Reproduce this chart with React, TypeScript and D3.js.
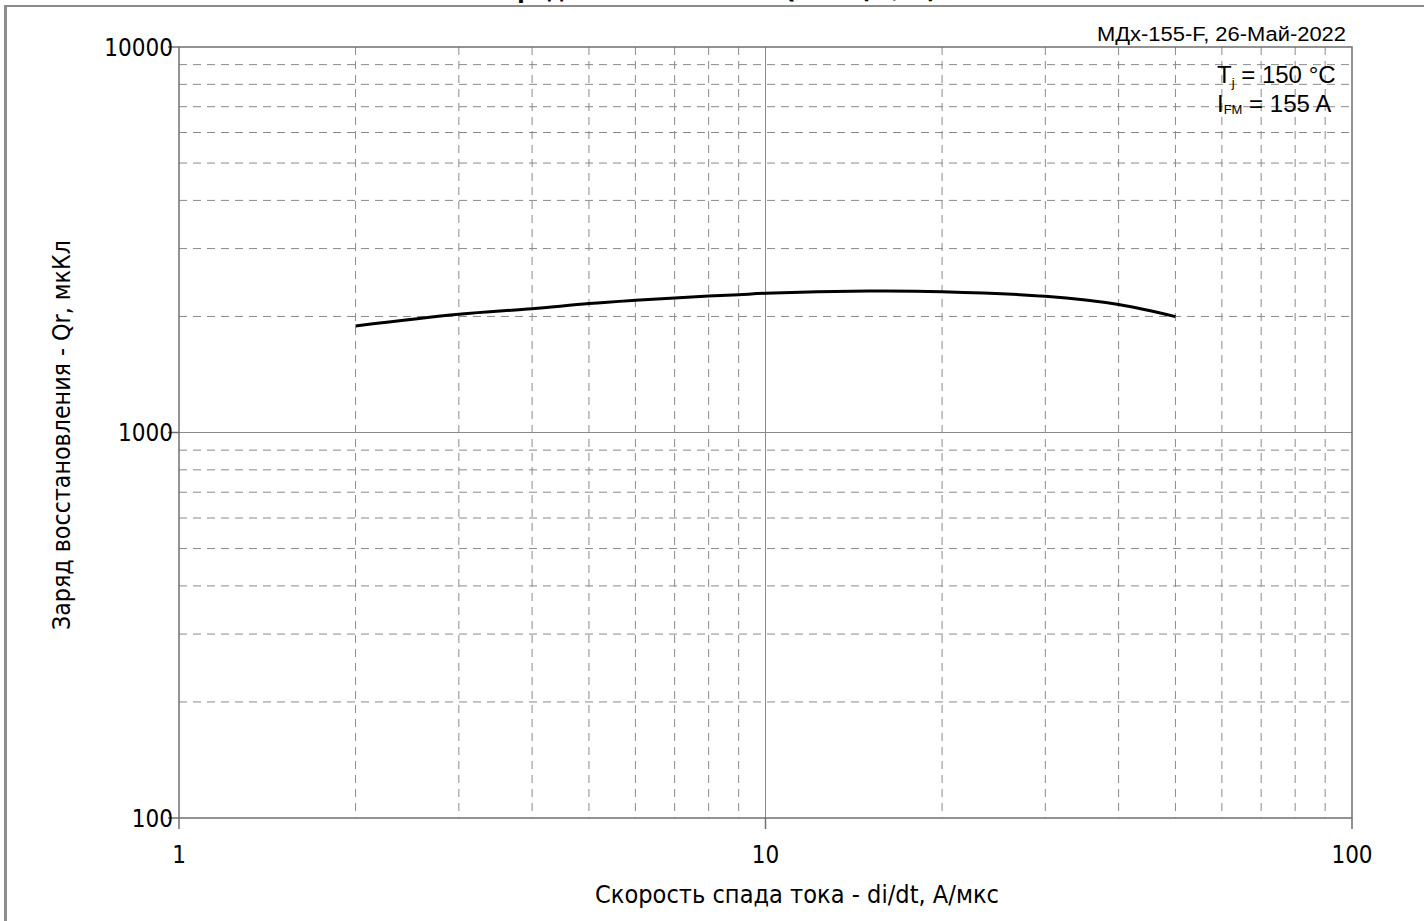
import React from "react";
import * as d3 from "d3";

const W = 1424;
const H = 921;

const diDt = [2, 3, 4, 5, 6, 7, 8, 9, 10, 15, 20, 30, 40, 50];
const qr = [1890, 2026, 2095, 2160, 2202, 2233, 2260, 2278, 2297, 2328, 2319, 2255, 2147, 1998];

const xMajor = [1, 10, 100];
const xMinor = [2, 3, 4, 5, 6, 7, 8, 9, 20, 30, 40, 50, 60, 70, 80, 90];
const yMajor = [100, 1000, 10000];
const yMinor = [200, 300, 400, 500, 600, 700, 800, 900, 2000, 3000, 4000, 5000, 6000, 7000, 8000, 9000];

const titleText = "Заряд восстановления Qrr = f(di/dt)";
const xTitle = "Скорость спада тока - di/dt, А/мкс";
const yTitle = "Заряд восстановления - Qr, мкКл";
const stamp = "МДх-155-F, 26-Май-2022";

const TICK_FONT = "'DejaVu Sans Condensed', 'DejaVu Sans', sans-serif";
const ARIAL = "'Liberation Sans', Arial, sans-serif";

export default function App() {
  const x = d3.scaleLog().domain([1, 100]).range([179, 1352]);
  const y = d3.scaleLog().domain([100, 10000]).range([818, 47]);
  const [x0, x1] = x.range();
  const [y0, y1] = y.range();

  const line = d3
    .line<number>()
    .x((_, i) => x(diDt[i]))
    .y((d) => y(d))
    .curve(d3.curveCatmullRom.alpha(0.5));

  const gridColor = "#8a8a8a";
  const axisColor = "#707070";

  return (
    <svg
      width={W}
      height={H}
      style={{ position: "absolute", left: 0, top: 0, background: "#fff" }}
    >
      <rect x={0} y={0} width={W} height={H} fill="#fff" />
      {/* outer frame */}
      <line x1={5.5} y1={5} x2={5.5} y2={H} stroke="#8c8c8c" strokeWidth={3} />
      <line x1={4} y1={6} x2={W} y2={6} stroke="#8c8c8c" strokeWidth={2} />

      {/* cut-off title */}
      <text
        x={712}
        y={-2}
        textAnchor="middle"
        fontFamily={TICK_FONT}
        fontWeight="bold"
        fontSize={24}
      >
        {titleText}
      </text>

      {/* minor grid */}
      {xMinor.map((v) => (
        <line
          key={"xm" + v}
          x1={x(v)}
          x2={x(v)}
          y1={y1}
          y2={y0}
          stroke={gridColor}
          strokeWidth={1}
          strokeDasharray="8,6"
        />
      ))}
      {yMinor.map((v) => (
        <line
          key={"ym" + v}
          x1={x0}
          x2={x1}
          y1={y(v)}
          y2={y(v)}
          stroke={gridColor}
          strokeWidth={1}
          strokeDasharray="8,6"
        />
      ))}
      {/* major grid */}
      {xMajor.slice(1, -1).map((v) => (
        <line key={"xM" + v} x1={x(v)} x2={x(v)} y1={y1} y2={y0} stroke={gridColor} strokeWidth={1} />
      ))}
      {yMajor.slice(1, -1).map((v) => (
        <line key={"yM" + v} x1={x0} x2={x1} y1={y(v)} y2={y(v)} stroke={gridColor} strokeWidth={1} />
      ))}

      {/* plot frame */}
      <rect
        x={x0}
        y={y1}
        width={x1 - x0}
        height={y0 - y1}
        fill="none"
        stroke={axisColor}
        strokeWidth={1.5}
      />

      {/* ticks and labels */}
      {yMajor.map((v) => (
        <g key={"yt" + v}>
          <line x1={x0 - 11} x2={x0} y1={y(v)} y2={y(v)} stroke={axisColor} strokeWidth={1.5} />
          <text
            x={173}
            y={y(v)}
            dy="0.36em"
            textAnchor="end"
            fontFamily={TICK_FONT}
            fontSize={24}
            fill="#000"
          >
            {v}
          </text>
        </g>
      ))}
      {xMajor.map((v) => (
        <g key={"xt" + v}>
          <line x1={x(v)} x2={x(v)} y1={y0} y2={y0 + 11} stroke={axisColor} strokeWidth={1.5} />
          <text
            x={x(v)}
            y={862.5}
            textAnchor="middle"
            fontFamily={TICK_FONT}
            fontSize={24}
            fill="#000"
          >
            {v}
          </text>
        </g>
      ))}

      {/* curve */}
      <path d={line(qr) || ""} fill="none" stroke="#000" strokeWidth={3} />

      {/* axis titles */}
      <text
        x={797}
        y={903}
        textAnchor="middle"
        fontFamily={TICK_FONT}
        fontSize={24}
        textLength={404}
        lengthAdjust="spacingAndGlyphs"
      >
        {xTitle}
      </text>
      <text
        transform={`translate(70,435) rotate(-90)`}
        textAnchor="middle"
        fontFamily={TICK_FONT}
        fontSize={24}
        textLength={390}
        lengthAdjust="spacingAndGlyphs"
      >
        {yTitle}
      </text>

      {/* stamp */}
      <text
        x={1346}
        y={41}
        textAnchor="end"
        fontFamily={ARIAL}
        fontSize={20.5}
        textLength={249}
        lengthAdjust="spacingAndGlyphs"
        fill="#000"
      >
        {stamp}
      </text>

      {/* conditions */}
      <text x={1217} y={83} fontFamily={ARIAL} fontSize={24} fill="#000">
        T
        <tspan fontSize={13} dy={4}>j</tspan>
        <tspan dy={-4}> = 150 °C</tspan>
      </text>
      <text x={1217} y={112} fontFamily={ARIAL} fontSize={24} fill="#000">
        I
        <tspan fontSize={13} dy={2}>FM</tspan>
        <tspan dy={-2}> = 155 A</tspan>
      </text>
    </svg>
  );
}
